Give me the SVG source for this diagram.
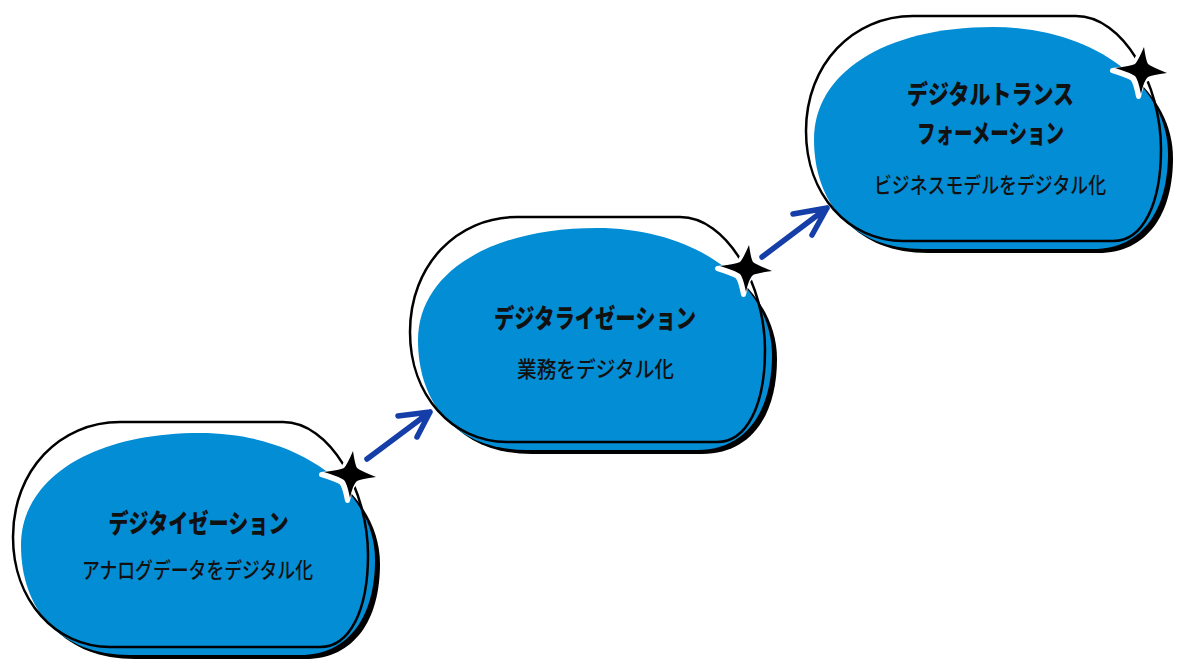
<svg xmlns="http://www.w3.org/2000/svg" xmlns:xlink="http://www.w3.org/1999/xlink" width="1192" height="670" viewBox="0 0 1192 670">
<style>
.shadow{fill:#000}
.blob{fill:#038dd5}
.outline{fill:none;stroke:#000;stroke-width:2.5}
.title{font-family:"Noto Sans CJK JP","Noto Sans CJK SC",sans-serif;font-weight:900;font-size:26px;fill:#111;text-anchor:middle}
.sub{font-family:"Noto Sans CJK JP","Noto Sans CJK SC",sans-serif;font-weight:500;font-size:22px;fill:#111;text-anchor:middle}
.conn{fill:none;stroke:#153ea8;stroke-width:5.5;stroke-linecap:round;stroke-linejoin:round}
.halo{fill:#fff;stroke:#fff;stroke-width:5;stroke-linejoin:round}
.starb{fill:#000}
</style>
<defs>
<path id="blueShape" d="M200,433 C300,433 375,490 375,560 C375,615 350,655 300,655 L130,655 C60,655 21,610 21,545 C21,480 90,433 200,433 Z"/>
<path id="outlineShape" d="M120,422 L283,422 C330,422 368,490 368,555 C368,610 350,647 320,647 L110,647 C55,647 13,600 13,537 C13,470 60,422 120,422 Z"/>
<g id="shape">
<use xlink:href="#blueShape" class="shadow" transform="translate(5,4)"/>
<use xlink:href="#blueShape" class="blob"/>
<use xlink:href="#outlineShape" class="outline"/>
</g>
<path id="starPath" d="M3,-23 Q5,-9 7,-6 Q11,-3 26,3 Q11,5 7,7 Q3,10 0,24 Q-3,9 -6,6 Q-10,3 -26,-2 Q-10,-4 -6,-6 Q-3,-9 3,-23 Z"/>
<g id="star">
<use xlink:href="#starPath" class="halo" transform="translate(-2.5,2.5)"/>
<use xlink:href="#starPath" class="starb"/>
</g>
</defs>

<g id="node-digitization">
<use xlink:href="#shape"/>
<text class="title" x="198.5" y="533" textLength="180" lengthAdjust="spacingAndGlyphs">デジタイゼーション</text>
<text class="sub" x="197.5" y="578" textLength="231" lengthAdjust="spacingAndGlyphs">アナログデータをデジタル化</text>
<use xlink:href="#star" transform="translate(350,474)"/>
</g>

<g id="node-digitalization">
<use xlink:href="#shape" transform="translate(397,-205)"/>
<text class="title" x="595" y="328" textLength="202" lengthAdjust="spacingAndGlyphs">デジタライゼーション</text>
<text class="sub" x="595.5" y="377" textLength="157" lengthAdjust="spacingAndGlyphs">業務をデジタル化</text>
<use xlink:href="#star" transform="translate(746,268)"/>
</g>

<g id="node-dx">
<use xlink:href="#shape" transform="translate(793,-406)"/>
<text class="title" x="990.5" y="104" textLength="167" lengthAdjust="spacingAndGlyphs">デジタルトランス</text>
<text class="title" x="990.5" y="143" textLength="147" lengthAdjust="spacingAndGlyphs">フォーメーション</text>
<text class="sub" x="990" y="193" textLength="232" lengthAdjust="spacingAndGlyphs">ビジネスモデルをデジタル化</text>
<use xlink:href="#star" transform="translate(1141,70)"/>
</g>

<g id="connectors">
<path class="conn" d="M367,459 L430,412 M398,416 L430,412 L417,437"/>
<path class="conn" d="M762,257 L827,208 M793,214 L827,208 L812,235"/>
</g>
</svg>
